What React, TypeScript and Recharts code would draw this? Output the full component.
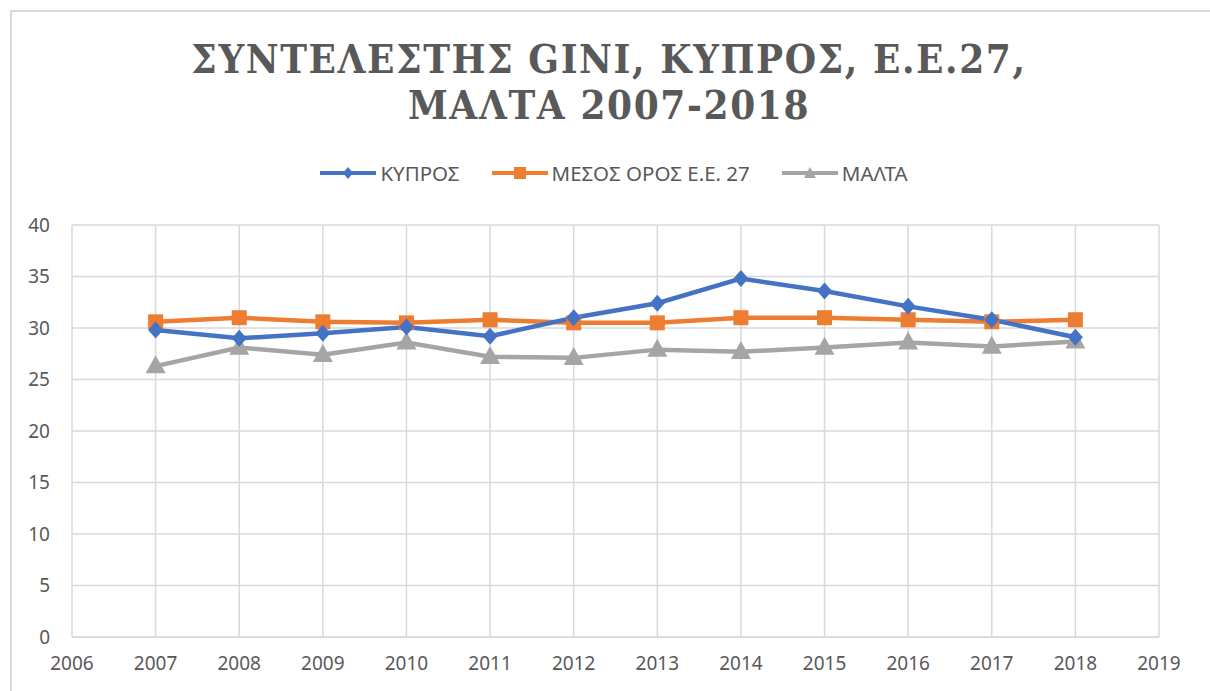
import { LineChart, Line, XAxis, YAxis, CartesianGrid } from 'recharts';

const YEARS = [2007, 2008, 2009, 2010, 2011, 2012, 2013, 2014, 2015, 2016, 2017, 2018];
const CYPRUS = [29.8, 29.0, 29.5, 30.1, 29.2, 31.0, 32.4, 34.8, 33.6, 32.1, 30.8, 29.1];
const EU27 = [30.6, 31.0, 30.6, 30.5, 30.8, 30.5, 30.5, 31.0, 31.0, 30.8, 30.6, 30.8];
const MALTA = [26.3, 28.1, 27.4, 28.6, 27.2, 27.1, 27.9, 27.7, 28.1, 28.6, 28.2, 28.7];
const X_TICKS = [2006, 2007, 2008, 2009, 2010, 2011, 2012, 2013, 2014, 2015, 2016, 2017, 2018, 2019];
const Y_TICKS = [0, 5, 10, 15, 20, 25, 30, 35, 40];

const TITLE_LINES = ['ΣΥΝΤΕΛΕΣΤΗΣ GINI, ΚΥΠΡΟΣ, Ε.Ε.27,', 'ΜΑΛΤΑ 2007-2018'];
const NAMES = ['ΚΥΠΡΟΣ', 'ΜΕΣΟΣ ΟΡΟΣ Ε.Ε. 27', 'ΜΑΛΤΑ'];

const BLUE = '#4472C4';
const ORANGE = '#ED7D31';
const GRAY = '#A5A5A5';
const TEXT = '#595959';
const GRID = '#d9d9d9';
const FONT = '"Noto Sans", sans-serif';

const data = YEARS.map((year, i) => ({
  year,
  cyprus: CYPRUS[i],
  eu: EU27[i],
  malta: MALTA[i],
}));

type DotProps = { cx?: number; cy?: number; index?: number };

function diamond(color: string, w: number, h: number) {
  return ({ cx = 0, cy = 0, index }: DotProps) => (
    <polygon
      key={`d-${index}`}
      points={`${cx},${cy - h / 2} ${cx + w / 2},${cy} ${cx},${cy + h / 2} ${cx - w / 2},${cy}`}
      fill={color}
    />
  );
}

function square(color: string, s: number) {
  return ({ cx = 0, cy = 0, index }: DotProps) => (
    <rect key={`s-${index}`} x={cx - s / 2} y={cy - s / 2} width={s} height={s} fill={color} />
  );
}

function triangle(color: string, w: number, h: number) {
  return ({ cx = 0, cy = 0, index }: DotProps) => (
    <polygon
      key={`t-${index}`}
      points={`${cx},${cy - h * 0.6} ${cx + w / 2},${cy + h * 0.4} ${cx - w / 2},${cy + h * 0.4}`}
      fill={color}
    />
  );
}

function LegendIcon({ color, kind }: { color: string; kind: string }) {
  return (
    <svg width={56} height={16} style={{ marginRight: 4 }}>
      <line x1={0} y1={8} x2={56} y2={8} stroke={color} strokeWidth={4} />
      {kind === 'diamond' && <polygon points="28,2 33,8 28,14 23,8" fill={color} />}
      {kind === 'square' && <rect x={22} y={2} width={12} height={12} fill={color} />}
      {kind === 'triangle' && <polygon points="28,2 34,13 22,13" fill={color} />}
    </svg>
  );
}

export default function App() {
  const items = [
    { name: NAMES[0], color: BLUE, kind: 'diamond' },
    { name: NAMES[1], color: ORANGE, kind: 'square' },
    { name: NAMES[2], color: GRAY, kind: 'triangle' },
  ];
  return (
    <div style={{ position: 'absolute', left: 0, top: 0, width: 1210, height: 691, background: '#fff', overflow: 'hidden' }}>
      <div
        style={{
          position: 'absolute',
          left: 10,
          top: 10,
          width: 1220,
          height: 700,
          borderLeft: `2px solid ${GRID}`,
          borderTop: `2px solid ${GRID}`,
        }}
      />
      <div
        style={{
          position: 'absolute',
          top: 36,
          left: 0,
          width: 1218,
          textAlign: 'center',
          fontFamily: '"DejaVu Serif Condensed", "DejaVu Serif", serif',
          fontStretch: 'condensed',
          fontWeight: 'bold',
          fontSize: 40,
          lineHeight: '46px',
          letterSpacing: 1.6,
          color: TEXT,
        }}
      >
        {TITLE_LINES.map((t) => (
          <div key={t}>{t}</div>
        ))}
      </div>
      <div
        style={{
          position: 'absolute',
          top: 159,
          left: 0,
          width: 1228,
          display: 'flex',
          justifyContent: 'center',
          alignItems: 'center',
          fontFamily: FONT,
          fontSize: 20.5,
          color: TEXT,
        }}
      >
        {items.map((it) => (
          <div key={it.name} style={{ display: 'flex', alignItems: 'center', margin: '0 16px' }}>
            <LegendIcon color={it.color} kind={it.kind} />
            <span>{it.name}</span>
          </div>
        ))}
      </div>
      <div style={{ position: 'absolute', left: 0, top: 0 }}>
        <LineChart width={1210} height={691} data={data} margin={{ top: 225, right: 51, left: 0, bottom: 14 }}>
          <CartesianGrid stroke={GRID} strokeWidth={1.5} />
          <XAxis
            dataKey="year"
            type="number"
            domain={[2006, 2019]}
            ticks={X_TICKS}
            interval={0}
            axisLine={{ stroke: GRID, strokeWidth: 1.5 }}
            tickLine={false}
            tickMargin={14}
            height={40}
            tick={{ fill: TEXT, fontSize: 19, fontFamily: FONT }}
          />
          <YAxis
            domain={[0, 40]}
            ticks={Y_TICKS}
            width={72}
            axisLine={false}
            tickLine={false}
            tickMargin={16}
            tick={{ fill: TEXT, fontSize: 19, fontFamily: FONT }}
          />
          <Line
            dataKey="malta"
            stroke={GRAY}
            strokeWidth={4.5}
            dot={triangle(GRAY, 20, 18)}
            isAnimationActive={false}
          />
          <Line
            dataKey="eu"
            stroke={ORANGE}
            strokeWidth={4.5}
            dot={square(ORANGE, 15)}
            isAnimationActive={false}
          />
          <Line
            dataKey="cyprus"
            stroke={BLUE}
            strokeWidth={4.5}
            dot={diamond(BLUE, 15, 17)}
            isAnimationActive={false}
          />
        </LineChart>
      </div>
    </div>
  );
}
